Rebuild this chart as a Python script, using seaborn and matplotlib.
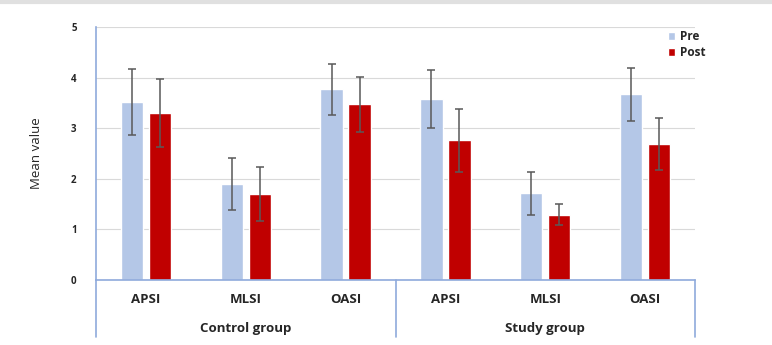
import pandas as pd
import matplotlib.pyplot as plt
import seaborn as sns
from matplotlib.lines import Line2D

# values
groups = ['Control group', 'Study group']
scales = ['APSI', 'MLSI', 'OASI']
pre_mean = [3.52, 1.90, 3.77, 3.58, 1.71, 3.67]
pre_sd = [0.65, 0.52, 0.50, 0.58, 0.42, 0.52]
post_mean = [3.30, 1.70, 3.47, 2.76, 1.29, 2.69]
post_sd = [0.67, 0.53, 0.54, 0.62, 0.21, 0.51]
y_ticks = [0, 1, 2, 3, 4, 5]

keys = [g + '|' + s for g in groups for s in scales]
df = pd.DataFrame({
    'key': keys * 2,
    'time': ['Pre'] * 6 + ['Post'] * 6,
    'mean': pre_mean + post_mean,
})

sns.set_style('white')
plt.rcParams['font.family'] = ['Open Sans', 'DejaVu Sans']

fig = plt.figure(figsize=(7.72, 3.45), dpi=100)
ax = fig.add_axes([0.1244, 0.1884, 0.7759, 0.7333])

sns.barplot(data=df, x='key', y='mean', hue='time', order=keys,
            hue_order=['Pre', 'Post'], palette=['#b4c7e7', '#c00000'], saturation=1,
            width=0.56, gap=0.2, errorbar=None, ax=ax, zorder=2)

# error bars on top of the seaborn bars
for cont, sds in zip(ax.containers, [pre_sd, post_sd]):
    for bar, sd in zip(cont, sds):
        ax.errorbar(bar.get_x() + bar.get_width() / 2, bar.get_height(), yerr=sd,
                    color='#595959', lw=1.1, capsize=3, capthick=1.1, zorder=3)

ax.set_ylim(0, 5)
ax.set_xlim(-0.5, 5.5)
ax.set_yticks(y_ticks)
ax.set_yticklabels([str(t) for t in y_ticks], fontsize=7, fontweight='bold')
ax.set_xticks(range(6))
ax.set_xticklabels([k.split('|')[1] for k in keys], fontsize=9.5, fontweight='bold')
ax.tick_params(axis='both', length=0)
ax.tick_params(axis='x', pad=9)
ax.tick_params(axis='y', pad=14)
ax.set_xlabel('')
ax.set_ylabel('Mean value', fontsize=9.5, labelpad=20)
ax.grid(axis='y', color='#d9d9d9', lw=0.8, zorder=0)
ax.set_axisbelow(True)

for s in ['top', 'right']:
    ax.spines[s].set_visible(False)
for s in ['left', 'bottom']:
    ax.spines[s].set_color('#8faadc')
    ax.spines[s].set_linewidth(1.2)

# group separators below the axis
tr = ax.get_xaxis_transform()
for xv in [-0.5, 2.5, 5.5]:
    ax.plot([xv, xv], [0, -0.225], transform=tr, color='#8faadc', lw=1.2, clip_on=False)
for i, g in enumerate(groups):
    ax.text(1 + 3 * i, -0.19, g, transform=tr, ha='center', va='center',
            fontsize=9.5, fontweight='bold')

leg = ax.legend(loc='upper right', bbox_to_anchor=(1.035, 1.03), frameon=False,
                prop={'size': 8.5, 'weight': 'bold'}, handlelength=0.6, handleheight=0.6,
                handletextpad=0.4, labelspacing=0.25)

fig.add_artist(Line2D([0, 1], [0.995, 0.995], color='#e0e0e0', lw=3))

plt.savefig('out.png', dpi=100)
